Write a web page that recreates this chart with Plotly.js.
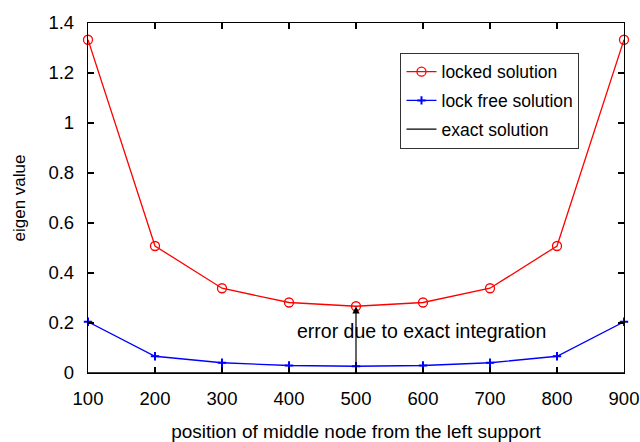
<!DOCTYPE html>
<html>
<head>
<meta charset="utf-8">
<script src="https://cdn.plot.ly/plotly-3.0.1.min.js"></script>
<style>html,body{margin:0;padding:0;background:#fff;}#chart{width:640px;height:442px;}</style>
</head>
<body>
<div id="chart"></div>
<script>
var positions = [100, 200, 300, 400, 500, 600, 700, 800, 900];
var lockedSolution = [1.333, 0.508, 0.339, 0.282, 0.267, 0.282, 0.339, 0.508, 1.333];
var lockFreeSolution = [0.205, 0.067, 0.041, 0.030, 0.027, 0.030, 0.041, 0.067, 0.205];
var exactSolution = [0, 0, 0, 0, 0, 0, 0, 0, 0];
var xTicks = [100, 200, 300, 400, 500, 600, 700, 800, 900];
var yTicks = [0, 0.2, 0.4, 0.6, 0.8, 1, 1.2, 1.4];
var arrowX = 500;
var arrowTop = 0.267;
var noteText = "error due to exact integration";

var font = "Liberation Sans, Arial, Helvetica, sans-serif";

var traces = [
  {x: positions, y: lockedSolution, name: "locked solution", mode: "lines+markers",
   legendgroup: "a",
   line: {color: "#ff0000", width: 1.3},
   marker: {symbol: "circle-open", size: 9, color: "#ff0000", line: {width: 1.3, color: "#ff0000"}},
   cliponaxis: false},
  {x: positions, y: lockFreeSolution, name: "lock free solution", mode: "lines+markers",
   legendgroup: "b",
   line: {color: "#0000ff", width: 1.3},
   marker: {symbol: "cross-thin-open", size: 6, color: "#0000ff", line: {width: 2, color: "#0000ff"}},
   cliponaxis: false},
  {x: positions, y: exactSolution, name: "exact solution", mode: "lines",
   legendgroup: "c",
   line: {color: "#000000", width: 1.3},
   cliponaxis: false}
];

var axisCommon = {
  showline: true, mirror: "ticks", linecolor: "#000", linewidth: 1.2,
  ticks: "inside", ticklen: 6, tickcolor: "#000", tickwidth: 1.2,
  showgrid: false, zeroline: false,
  tickfont: {family: font, size: 18.5, color: "#000"}
};

var layout = {
  width: 640, height: 442,
  margin: {l: 88, r: 16, t: 23, b: 69},
  paper_bgcolor: "#fff", plot_bgcolor: "#fff",
  font: {family: font, color: "#000"},
  showlegend: true,
  legend: {
    x: 0.583, y: 0.915, xanchor: "left", yanchor: "top",
    bordercolor: "#333", borderwidth: 1, bgcolor: "#fff",
    font: {family: font, size: 17.5, color: "#000"},
    traceorder: "grouped", tracegroupgap: 3
  },
  xaxis: Object.assign({}, axisCommon, {
    range: [100, 900], tickvals: xTicks, ticktext: xTicks.map(String),
    ticklabelstandoff: 9,
    title: {text: "position of middle node from the left support", font: {family: font, size: 19, color: "#000"}, standoff: 16}
  }),
  yaxis: Object.assign({}, axisCommon, {
    range: [0, 1.4], tickvals: yTicks, ticktext: yTicks.map(String),
    ticklabelstandoff: 9,
    title: {text: "eigen value", font: {family: font, size: 17, color: "#000"}, standoff: 18}
  }),
  annotations: [
    {x: arrowX, y: arrowTop, ax: arrowX, ay: 0, axref: "x", ayref: "y", xref: "x", yref: "y",
     showarrow: true, arrowhead: 2, arrowsize: 1.2, arrowwidth: 1.2, arrowcolor: "#000", text: ""},
    {x: 598, y: 0.168, xref: "x", yref: "y", text: noteText, showarrow: false,
     font: {family: font, size: 19.5, color: "#000"}, bgcolor: "rgba(0,0,0,0)"}
  ]
};

Plotly.newPlot("chart", traces, layout, {displayModeBar: false, staticPlot: true});
</script>
</body>
</html>
